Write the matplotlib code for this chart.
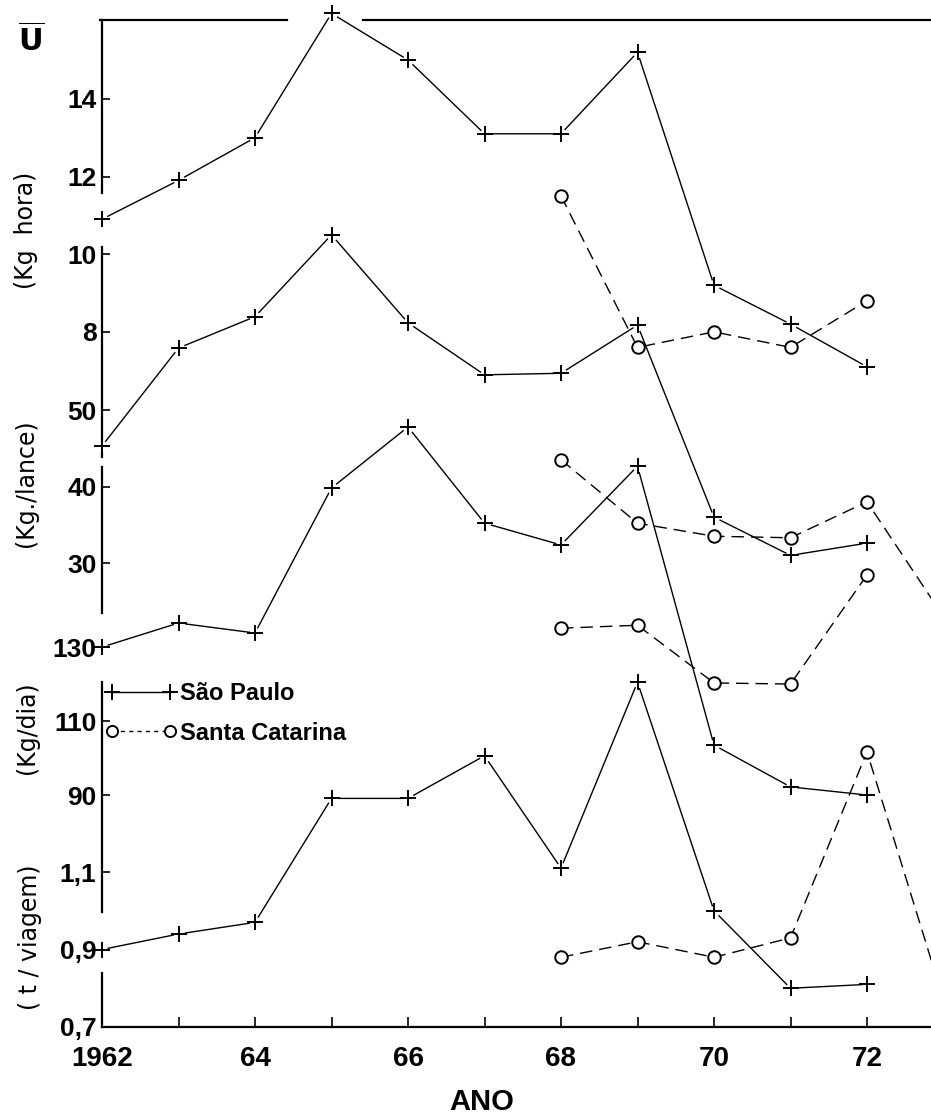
import matplotlib
matplotlib.use("Agg")
import matplotlib.pyplot as plt
from matplotlib.lines import Line2D

# ---------------- data ----------------
years_sp = [1962, 1963, 1964, 1965, 1966, 1967, 1968, 1969, 1970, 1971, 1972]
years_sc = [1968, 1969, 1970, 1971, 1972]
years_sc_ext = [1968, 1969, 1970, 1971, 1972, 1973]

sp_kg_hora = [10.9, 11.9, 13.0, 16.2, 15.0, 13.1, 13.1, 15.2, 9.2, 8.2, 7.1]
sc_kg_hora = [11.5, 7.6, 8.0, 7.6, 8.8]

sp_kg_lance = [45.3, 58.1, 62.2, 72.9, 61.4, 54.6, 54.8, 61.1, 36.0, 31.0, 32.6]
sc_kg_lance = [43.5, 35.2, 33.5, 33.3, 38.0, 23.0]

sp_kg_dia = [130.0, 136.5, 133.8, 173.0, 189.5, 163.5, 157.6, 178.9, 103.5, 92.2, 90.0]
sc_kg_dia = [135.1, 135.9, 120.3, 120.0, 149.5]

sp_t_viagem = [0.90, 0.94, 0.97, 1.29, 1.29, 1.40, 1.11, 1.59, 1.00, 0.80, 0.81]
sc_t_viagem = [0.88, 0.92, 0.88, 0.93, 1.41, 0.77]

x_major = [1962, 1964, 1966, 1968, 1970, 1972]
x_major_labels = ["1962", "64", "66", "68", "70", "72"]
x_minor = [1963, 1965, 1967, 1969, 1971, 1973]

ticks_hora = [8, 10, 12, 14]
labels_hora = ["8", "10", "12", "14"]
ticks_lance = [30, 40, 50]
labels_lance = ["30", "40", "50"]
ticks_dia = [90, 110, 130]
labels_dia = ["90", "110", "130"]
ticks_viagem = [0.7, 0.9, 1.1]
labels_viagem = ["0,7", "0,9", "1,1"]

sp_label = "São Paulo"
sc_label = "Santa Catarina"

# ---------------- figure / layout ----------------
W, H = 931, 1120
plt.rcParams["font.family"] = ["Liberation Sans", "DejaVu Sans"]
fig = plt.figure(figsize=(W / 100, H / 100), dpi=100)

ax_left_px, ax_right_px = 102, 102 + 12 * 76.5
ax_top_px, ax_bot_px = 20, 1027
pos = [ax_left_px / W, 1 - ax_bot_px / H,
       (ax_right_px - ax_left_px) / W, (ax_bot_px - ax_top_px) / H]

ax1 = fig.add_axes(pos)               # Kg/hora
ax2 = fig.add_axes(pos, sharex=ax1)   # Kg/lance
ax3 = fig.add_axes(pos, sharex=ax1)   # Kg/dia
ax4 = fig.add_axes(pos, sharex=ax1)   # t/viagem
axes = [ax1, ax2, ax3, ax4]

ax1.set_xlim(1962, 1974)
ax1.set_ylim(-9.9, 16.03)
ax2.set_ylim(-30.65, 100.98)
ax3.set_ylim(27.3, 299.5)
ax4.set_ylim(0.7, 3.299)

LW = 1.0
sp_style = dict(color="black", lw=LW, ls="-", zorder=2, clip_on=False)
sc_style = dict(color="black", lw=LW, ls=(0, (9, 5)), zorder=2, clip_on=False)
halo = dict(ls="none", marker="o", ms=8, mfc="white", mec="none", zorder=3,
            clip_on=False)
plus = dict(ls="none", marker="+", ms=12, mew=1.4, color="black", zorder=4,
            clip_on=False)
circ = dict(ls="none", marker="o", ms=9, mew=1.4, mfc="white", mec="black",
            zorder=4, clip_on=False)

series = [
    (ax1, sp_kg_hora, years_sc, sc_kg_hora),
    (ax2, sp_kg_lance, years_sc_ext, sc_kg_lance),
    (ax3, sp_kg_dia, years_sc, sc_kg_dia),
    (ax4, sp_t_viagem, years_sc_ext, sc_t_viagem),
]
for ax, sp, ysc, sc in series:
    ax.plot(years_sp, sp, **sp_style)
    ax.plot(ysc, sc, **sc_style)
    ax.plot(years_sp, sp, **halo)
    ax.plot(years_sp, sp, **plus)
    ax.plot(ysc, sc, **circ)

# ---------------- axes styling ----------------
for ax in axes:
    for s in ax.spines.values():
        s.set_visible(False)
    ax.patch.set_visible(False)
    ax.tick_params(axis="y", direction="in", length=6, width=1.2, pad=4,
                   labelsize=19)
    ax.tick_params(axis="x", which="both", bottom=False, labelbottom=False)

ax1.spines["bottom"].set_visible(True)
ax1.spines["bottom"].set_linewidth(1.6)
ax1.set_xticks(x_major)
ax1.set_xticklabels(x_major_labels)
ax1.set_xticks(x_minor, minor=True)
ax1.tick_params(axis="x", which="both", bottom=True, labelbottom=True,
                direction="in", length=7, width=1.2, pad=14, labelsize=20)

for ax, t, l in [(ax1, ticks_hora, labels_hora), (ax2, ticks_lance, labels_lance),
                 (ax3, ticks_dia, labels_dia), (ax4, ticks_viagem, labels_viagem)]:
    ax.set_yticks(t)
    ax.set_yticklabels(l)
    for lbl in ax.get_yticklabels():
        lbl.set_fontweight("bold")
for lbl in ax1.get_xticklabels():
    lbl.set_fontweight("bold")


def ay(px):
    return (ax_bot_px - px) / (ax_bot_px - ax_top_px)


def axx(px):
    return (px - ax_left_px) / (ax_right_px - ax_left_px)


# left spine with the hand-drawn gaps
for top, bot in [(20, 193), (247, 457), (467, 613), (682, 912), (973, 1027)]:
    ax1.plot([0, 0], [ay(top), ay(bot)], transform=ax1.transAxes, color="black",
             lw=1.6, clip_on=False, zorder=5)
# top frame line, broken around the 1965 point
for x0, x1 in [(100, 287), (363, 931)]:
    ax1.plot([axx(x0), axx(x1)], [1, 1], transform=ax1.transAxes, color="black",
             lw=1.6, clip_on=False, zorder=5)

# ---------------- labels ----------------
def ftext(x, y, s, **kw):
    fig.text(x / W, 1 - y / H, s, ha="center", va="center", **kw)


lab_font = ["DejaVu Sans"]
ftext(31, 42, r"$\overline{\mathbf{U}}$", fontsize=22)
ftext(26, 230, "(Kg  hora)", rotation=90, fontsize=17, family=lab_font)
ftext(26, 483, "(Kg./lance)", rotation=90, fontsize=17, family=lab_font)
ftext(27, 728, "(Kg/dia)", rotation=90, fontsize=17, family=lab_font)
ftext(30, 937, "( t / viagem)", rotation=90, fontsize=17, family=lab_font)
ftext(482, 1102, "ANO", fontsize=21, fontweight="bold")

h_sp = Line2D([], [], color="black", lw=LW, ls="-", marker="+", ms=12, mew=1.4)
h_sc = Line2D([], [], color="black", lw=LW, ls=(0, (3, 3)), marker="o", ms=8,
              mew=1.4, mfc="white")
leg = ax4.legend([h_sp, h_sc], [sp_label, sc_label], loc="upper left",
                 bbox_to_anchor=(105 / W, 1 - 682 / H), bbox_transform=fig.transFigure,
                 frameon=False, numpoints=2, handlelength=3.05, handletextpad=0.13,
                 borderpad=0, borderaxespad=0, labelspacing=0.7,
                 prop=dict(size=17, weight="bold"))

fig.savefig("out.png", dpi=100)
